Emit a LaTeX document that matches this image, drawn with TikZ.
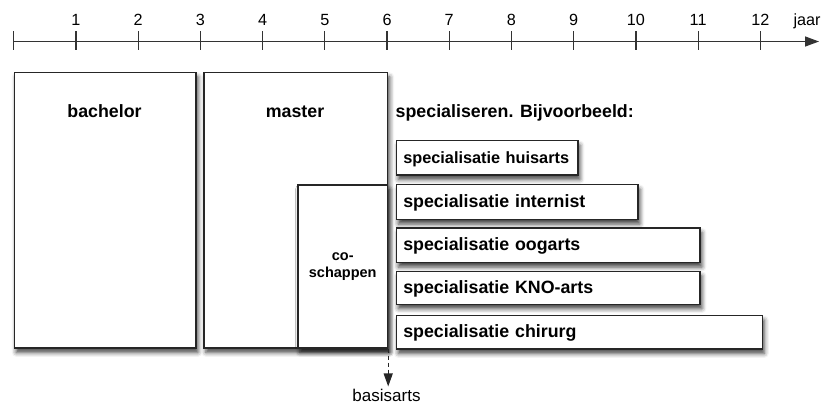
\documentclass[tikz,border=0pt]{standalone}
\usepackage{fontspec}
\setmainfont{Liberation Sans}
\usetikzlibrary{shadows.blur,arrows.meta}
\tikzset{
  bx/.style={draw=black!85, line width=1.2pt, fill=white, inner sep=0pt, anchor=north west,
    blur shadow={shadow xshift=2pt, shadow yshift=-4.5pt, shadow blur radius=4.5pt, shadow opacity=75}},
  specbox/.style={bx, align=left, inner xsep=7pt, text height=13pt, text depth=2pt,
    font=\fontsize{17.8}{20}\selectfont\bfseries},
  blbl/.style={font=\fontsize{17.8}{20}\selectfont\bfseries, inner sep=0pt},
  nlbl/.style={font=\fontsize{16.2}{18}\selectfont, inner sep=0pt, anchor=base},
  axisline/.style={draw=black!80, line width=1.4pt},
}
\begin{document}
\begin{tikzpicture}[x=1pt,y=-1pt]
\useasboundingbox (0,0) rectangle (824,405);
% axis
\coordinate (a0) at (13.7,41.5);
\coordinate (aend) at (819,41.5);
\draw[axisline, -{Triangle[length=14pt,width=10pt]}] (a0) -- (aend);
\foreach \k in {0,...,12}{
  \draw[axisline, line width=1.2pt] (13.7+62.22*\k,31) -- (13.7+62.22*\k,49.5);
}
\foreach \k in {1,...,12}{
  \node[nlbl] (n\k) at (13.7+62.22*\k,25.3) {\k};
}
\node[nlbl, anchor=base west] (jaar) at (793.3,25.3) {jaar};
% main boxes
\node[bx, minimum width=181.6pt, minimum height=275.6pt] (bachelor) at (13.7,71.7) {};
\node[bx, minimum width=183.7pt, minimum height=275.6pt] (master) at (203.3,71.7) {};
\node[blbl, anchor=base] (bachelorlbl) at (104.5,117) {bachelor};
\node[blbl, anchor=base] (masterlbl) at (295,117) {master};
\node[bx, minimum width=89.7pt, minimum height=163pt, align=center,
      font=\fontsize{14.5}{17.4}\selectfont\bfseries] (cosch) at (297.3,184.3) {co-\\schappen};
% specialisations
\node[blbl, anchor=base west] (speclbl) at (395.5,117) {specialiseren. Bijvoorbeeld:};
\node[specbox, minimum height=34.3pt, text width=167.6pt,
      font=\fontsize{16.3}{19}\selectfont\bfseries] (huis) at (395.7,140) {specialisatie huisarts};
\node[specbox, minimum height=35pt, text width=227.6pt] (intern) at (395.7,184) {specialisatie internist};
\node[specbox, minimum height=34.7pt, text width=289.6pt] (oog) at (395.7,227.3) {specialisatie oogarts};
\node[specbox, minimum height=32.8pt, text width=289.6pt] (kno) at (395.7,270.7) {specialisatie KNO-arts};
\node[specbox, minimum height=33.3pt, text width=352pt] (chir) at (395.7,315) {specialisatie chirurg};
% basisarts
\node[nlbl, font=\fontsize{17}{20}\selectfont] (basis) at (386.5,401.5) {basisarts};
\draw[draw=black!85, line width=1.1pt, dash pattern=on 4pt off 3pt,
      -{Triangle[length=13pt,width=9pt]}, shorten >=2.5pt] (master.south east) -- (basis.north -| master.south east);
\end{tikzpicture}
\end{document}
